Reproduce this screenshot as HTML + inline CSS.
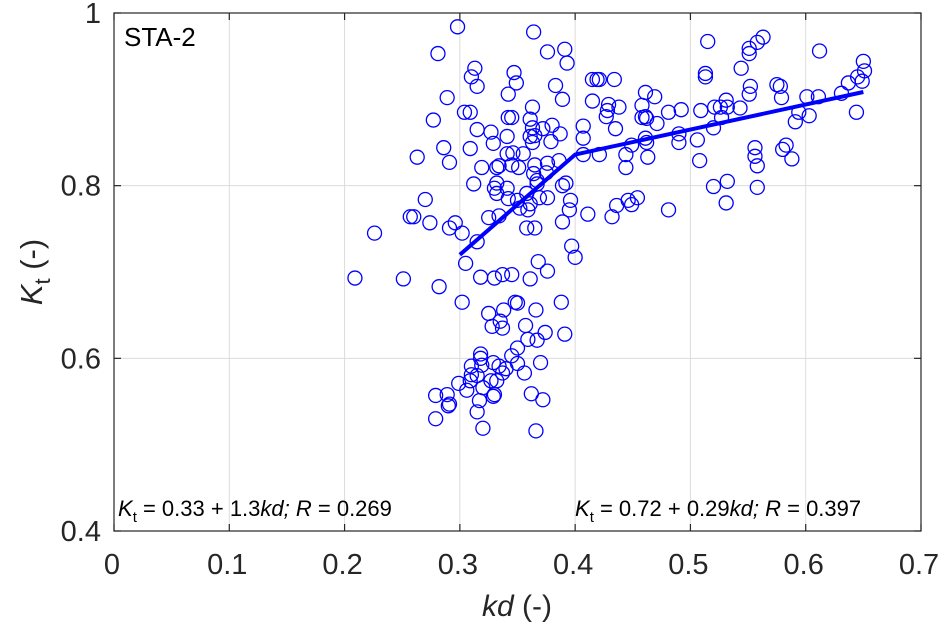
<!DOCTYPE html>
<html><head><meta charset="utf-8"><style>
html,body{margin:0;padding:0;background:#fff;}
svg{display:block;font-family:"Liberation Sans",Arial,sans-serif;}
</style></head><body>
<svg id="chart" width="945" height="630" viewBox="0 0 945 630" xmlns="http://www.w3.org/2000/svg"></svg>
<script>
const xTicks=[0,0.1,0.2,0.3,0.4,0.5,0.6,0.7];
const xTickLabels=["0","0.1","0.2","0.3","0.4","0.5","0.6","0.7"];
const yTicks=[0.4,0.6,0.8,1];
const yTickLabels=["0.4","0.6","0.8","1"];
const kdValues=[0.281,0.289,0.277,0.286,0.263,0.291,0.270,0.257,0.260,0.274,0.226,0.298,0.364,0.376,0.391,0.393,0.313,0.310,0.315,0.347,0.349,0.342,0.383,0.389,0.415,0.419,0.421,0.434,0.415,0.429,0.428,0.427,0.438,0.435,0.461,0.469,0.458,0.461,0.458,0.462,0.471,0.304,0.309,0.363,0.342,0.345,0.361,0.315,0.327,0.329,0.341,0.363,0.365,0.361,0.363,0.372,0.380,0.387,0.379,0.407,0.407,0.407,0.421,0.309,0.319,0.341,0.346,0.355,0.334,0.332,0.351,0.345,0.365,0.364,0.367,0.376,0.375,0.386,0.312,0.332,0.330,0.332,0.341,0.342,0.350,0.358,0.361,0.369,0.376,0.367,0.389,0.392,0.444,0.444,0.449,0.463,0.461,0.462,0.291,0.296,0.325,0.334,0.352,0.359,0.396,0.395,0.411,0.432,0.436,0.446,0.449,0.454,0.389,0.358,0.365,0.515,0.563,0.558,0.551,0.551,0.612,0.650,0.651,0.645,0.649,0.637,0.631,0.611,0.601,0.644,0.513,0.513,0.544,0.552,0.551,0.575,0.578,0.579,0.594,0.603,0.591,0.481,0.492,0.509,0.521,0.526,0.531,0.532,0.543,0.527,0.520,0.490,0.490,0.506,0.508,0.556,0.556,0.558,0.583,0.580,0.588,0.520,0.532,0.558,0.531,0.481,0.302,0.315,0.305,0.397,0.400,0.368,0.376,0.318,0.330,0.337,0.345,0.361,0.251,0.282,0.302,0.348,0.350,0.388,0.325,0.338,0.366,0.328,0.335,0.337,0.357,0.374,0.359,0.367,0.391,0.350,0.345,0.350,0.318,0.318,0.310,0.310,0.315,0.309,0.329,0.334,0.340,0.337,0.319,0.370,0.356,0.299,0.306,0.327,0.332,0.320,0.279,0.289,0.291,0.290,0.329,0.330,0.362,0.372,0.317,0.315,0.279,0.320,0.366,0.209];
const ktValues=[0.953,0.902,0.876,0.844,0.833,0.827,0.784,0.764,0.764,0.757,0.745,0.984,0.978,0.955,0.958,0.942,0.936,0.926,0.915,0.931,0.919,0.906,0.916,0.900,0.923,0.923,0.923,0.923,0.898,0.894,0.887,0.880,0.891,0.866,0.908,0.903,0.893,0.880,0.879,0.878,0.872,0.885,0.885,0.891,0.879,0.879,0.877,0.865,0.862,0.849,0.857,0.867,0.858,0.857,0.850,0.866,0.870,0.860,0.851,0.869,0.855,0.836,0.836,0.843,0.821,0.837,0.838,0.837,0.823,0.821,0.821,0.824,0.824,0.814,0.806,0.826,0.815,0.829,0.802,0.803,0.797,0.791,0.797,0.785,0.783,0.791,0.779,0.786,0.786,0.802,0.800,0.803,0.836,0.821,0.847,0.833,0.855,0.850,0.751,0.757,0.763,0.765,0.774,0.772,0.783,0.772,0.767,0.764,0.777,0.783,0.778,0.786,0.758,0.751,0.751,0.967,0.972,0.966,0.959,0.953,0.956,0.944,0.933,0.926,0.921,0.919,0.907,0.903,0.903,0.885,0.930,0.926,0.936,0.915,0.906,0.917,0.915,0.902,0.885,0.881,0.874,0.885,0.888,0.887,0.891,0.891,0.899,0.891,0.890,0.879,0.867,0.860,0.850,0.853,0.829,0.844,0.834,0.823,0.847,0.842,0.831,0.799,0.805,0.798,0.780,0.772,0.745,0.735,0.710,0.730,0.717,0.712,0.701,0.694,0.693,0.697,0.697,0.692,0.692,0.683,0.665,0.665,0.664,0.665,0.652,0.656,0.656,0.637,0.643,0.635,0.638,0.630,0.622,0.621,0.628,0.612,0.603,0.594,0.605,0.600,0.591,0.581,0.580,0.574,0.595,0.591,0.588,0.583,0.592,0.595,0.583,0.571,0.563,0.574,0.574,0.566,0.557,0.558,0.547,0.545,0.556,0.558,0.559,0.552,0.551,0.538,0.530,0.519,0.516,0.693];
const fitKd=[0.3,0.4,0.65];
const fitKt=[0.72,0.836,0.9085];

const L=114,R=921,T=13,B=531;
const sx=v=>L+(v-0)/(0.7-0)*(R-L);
const sy=v=>B-(v-0.4)/(1-0.4)*(B-T);
const svg=document.getElementById('chart');
const NS='http://www.w3.org/2000/svg';
function mk(tag,attrs,parent){const e=document.createElementNS(NS,tag);for(const k in attrs)e.setAttribute(k,attrs[k]);(parent||svg).appendChild(e);return e;}

const grid=mk('g',{});


xTicks.forEach((t,i)=>{
  if(i>0&&i<xTicks.length-1){const g=mk('line',{x1:sx(t),x2:sx(t),y1:T,y2:B,stroke:'#dcdcdc','stroke-width':1},grid);
  
  }
});
yTicks.forEach((t,i)=>{
  if(i>0&&i<yTicks.length-1){const g=mk('line',{x1:L,x2:R,y1:sy(t),y2:sy(t),stroke:'#dcdcdc','stroke-width':1},grid);
  
  }
});

const pts=mk('g',{});


kdValues.forEach((v,i)=>{
  const c=mk('circle',{cx:sx(v),cy:sy(ktValues[i]),r:7,fill:'none',stroke:'#0000ff','stroke-width':1.3},pts);
  
  
});

const fit=mk('polyline',{points:fitKd.map((v,i)=>sx(v)+','+sy(fitKt[i])).join(' '),fill:'none',stroke:'#0000ff','stroke-width':4,'stroke-linejoin':'round'});



const frame=mk('rect',{x:L,y:T,width:R-L,height:B-T,fill:'none',stroke:'#262626','stroke-width':1.2});



xTicks.forEach((t,i)=>{
  const tk=mk('line',{x1:sx(t),x2:sx(t),y1:B,y2:B-7,stroke:'#262626','stroke-width':1.2});
  
  
  const tk2=mk('line',{x1:sx(t),x2:sx(t),y1:T,y2:T+7,stroke:'#262626','stroke-width':1.2});
  
  
  const lb=mk('text',{x:sx(t)-2,y:574,'text-anchor':'middle','font-size':29,fill:'#262626'});
  lb.textContent=xTickLabels[i];
  
  
});
yTicks.forEach((t,i)=>{
  const tk=mk('line',{x1:L,x2:L+7,y1:sy(t),y2:sy(t),stroke:'#262626','stroke-width':1.2});
  
  
  const tk2=mk('line',{x1:R,x2:R-7,y1:sy(t),y2:sy(t),stroke:'#262626','stroke-width':1.2});
  
  
  const lb=mk('text',{x:101,y:sy(t)+10,'text-anchor':'end','font-size':29,fill:'#262626'});
  lb.textContent=yTickLabels[i];
  
  
});
</script>
<script>
(function(){
const svg=document.getElementById('chart');
svg.insertAdjacentHTML('beforeend',
'<text x="124" y="46" font-size="26" fill="#000">STA-2</text>'+
'<text x="118" y="516" font-size="22" fill="#000"><tspan font-style="italic">K</tspan><tspan font-size="15" dy="6">t</tspan><tspan dy="-6"> = 0.33 + 1.3</tspan><tspan font-style="italic">kd; R</tspan><tspan> = 0.269</tspan></text>'+
'<text x="575" y="516" font-size="22" fill="#000"><tspan font-style="italic">K</tspan><tspan font-size="15" dy="6">t</tspan><tspan dy="-6"> = 0.72 + 0.29</tspan><tspan font-style="italic">kd; R</tspan><tspan> = 0.397</tspan></text>'+
'<text x="517" y="616" text-anchor="middle" font-size="30" fill="#262626"><tspan font-style="italic">kd</tspan> (-)</text>'+
'<text transform="translate(42,272) rotate(-90)" text-anchor="middle" font-size="31" fill="#262626"><tspan font-style="italic">K</tspan><tspan font-size="22" dy="8">t</tspan><tspan dy="-8"> (-)</tspan></text>'
);
})();
</script>
</body></html>
